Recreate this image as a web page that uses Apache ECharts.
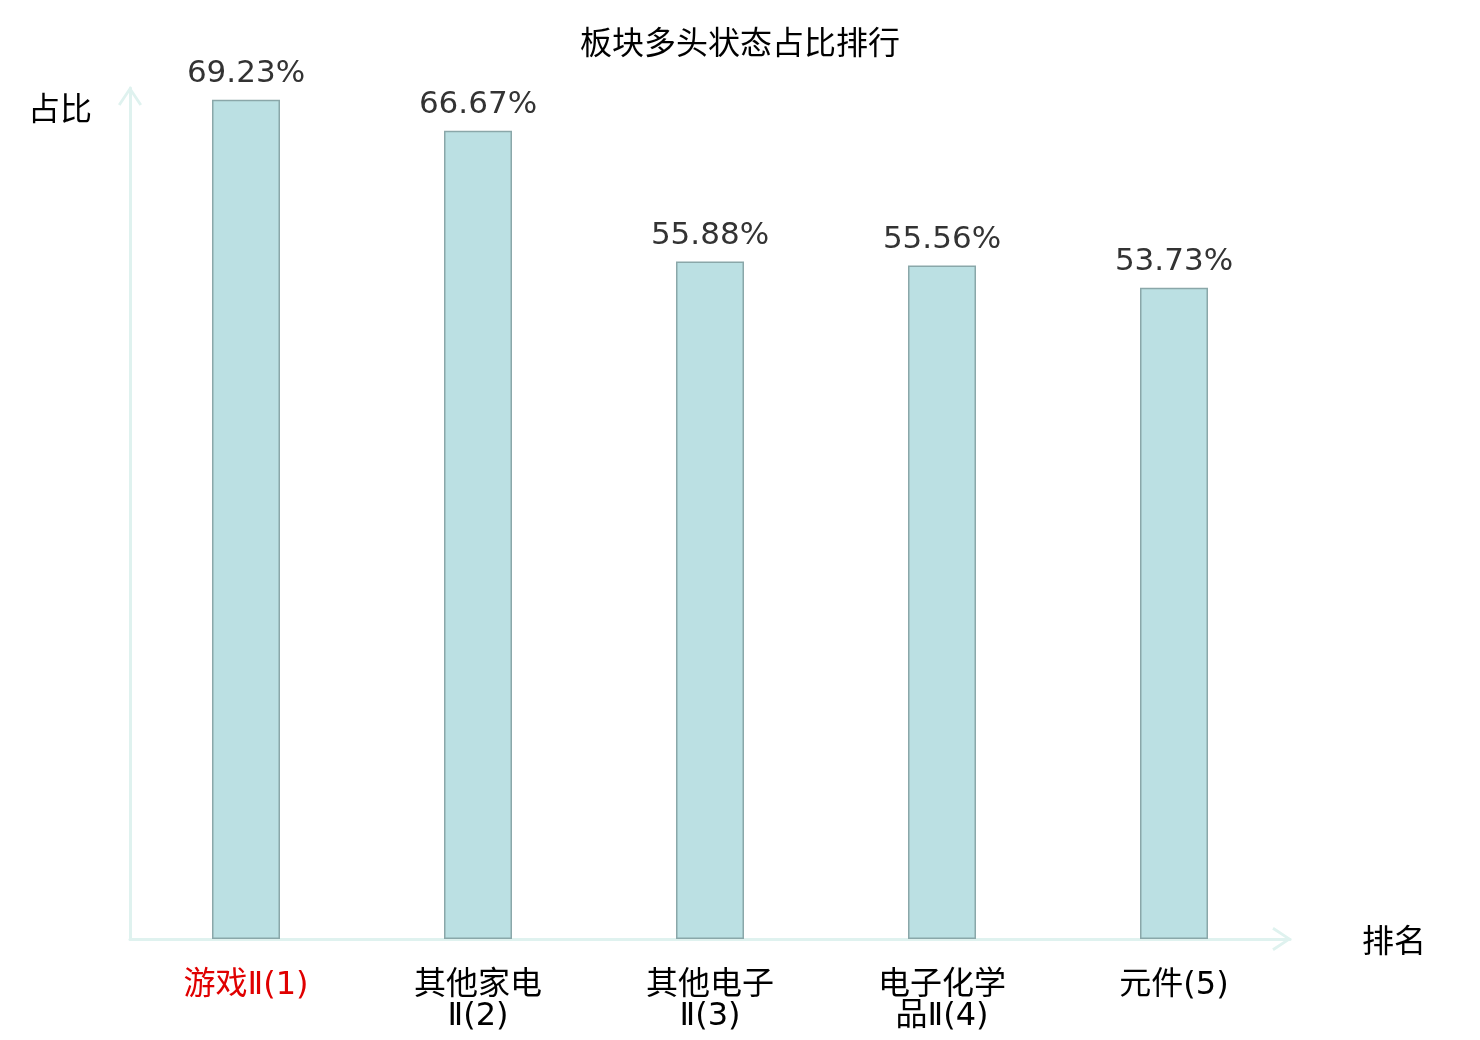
<!DOCTYPE html>
<html><head><meta charset="utf-8">
<script src="https://cdn.jsdelivr.net/npm/echarts@6/dist/echarts.min.js"></script>
<style>html,body{margin:0;padding:0;background:#fff}#c{width:1480px;height:1040px}</style>
</head><body><div id="c"></div>
<script>
const categories = ['游戏Ⅱ(1)', '其他家电Ⅱ(2)', '其他电子Ⅱ(3)', '电子化学品Ⅱ(4)', '元件(5)'];
const values = [69.23, 66.67, 55.88, 55.56, 53.73];
const titleText = '板块多头状态占比排行';
const yName = '占比';
const xName = '排名';

const FONT = '"DejaVu Sans", "Noto Sans CJK SC", sans-serif';
const CHEVRON = 'path://M0,18 L12,0 L24,18 L21.6,19.6 L12,5 L2.4,19.6 Z';
const chart = echarts.init(document.getElementById('c'));
chart.setOption({
  backgroundColor: '#fff',
  animation: false,
  title: {
    text: titleText, left: 'center', top: 25,
    textStyle: { fontSize: 32, fontWeight: 'normal', color: '#000', fontFamily: FONT }
  },
  grid: { left: 130, right: 190, top: 88, bottom: 101, containLabel: false },
  xAxis: {
    type: 'category', data: categories,
    name: xName, nameLocation: 'end', nameGap: 72,
    nameTextStyle: { fontSize: 32, color: '#000', fontFamily: FONT, verticalAlign: 'top', lineHeight: 9 },
    axisLine: { show: true, symbol: ['none', CHEVRON], symbolSize: [24, 20], symbolOffset: [0, -8], lineStyle: { color: '#dff2ef', width: 3 } },
    axisTick: { show: false },
    axisLabel: {
      interval: 0, margin: 31, fontSize: 32, lineHeight: 31, fontFamily: FONT,
      formatter: function (v) { return v.length > 6 ? v.slice(0, 4) + '\n' + v.slice(4) : v; },
      color: function (v, i) { return i === 0 ? '#e00000' : '#000'; }
    }
  },
  yAxis: {
    type: 'value', min: 0, max: 70.2,
    name: yName, nameLocation: 'end', nameGap: -40,
    nameTextStyle: { fontSize: 32, color: '#000', fontFamily: FONT, align: 'right', padding: [0, 38, 0, 0] },
    axisLine: { show: true, symbol: ['none', CHEVRON], symbolSize: [24, 20], symbolOffset: [0, -8], lineStyle: { color: '#dff2ef', width: 3 } },
    axisTick: { show: false },
    axisLabel: { show: false },
    splitLine: { show: false }
  },
  series: [{
    type: 'bar', data: values, barWidth: 68,
    itemStyle: { color: '#bbe0e3', borderColor: '#8aa7a9', borderWidth: 1.5 },
    label: {
      show: true, position: 'top', distance: 10,
      formatter: function (p) { return p.value.toFixed(2) + '%'; },
      fontSize: 31, color: '#333', fontFamily: FONT
    }
  }]
});
</script></body></html>
